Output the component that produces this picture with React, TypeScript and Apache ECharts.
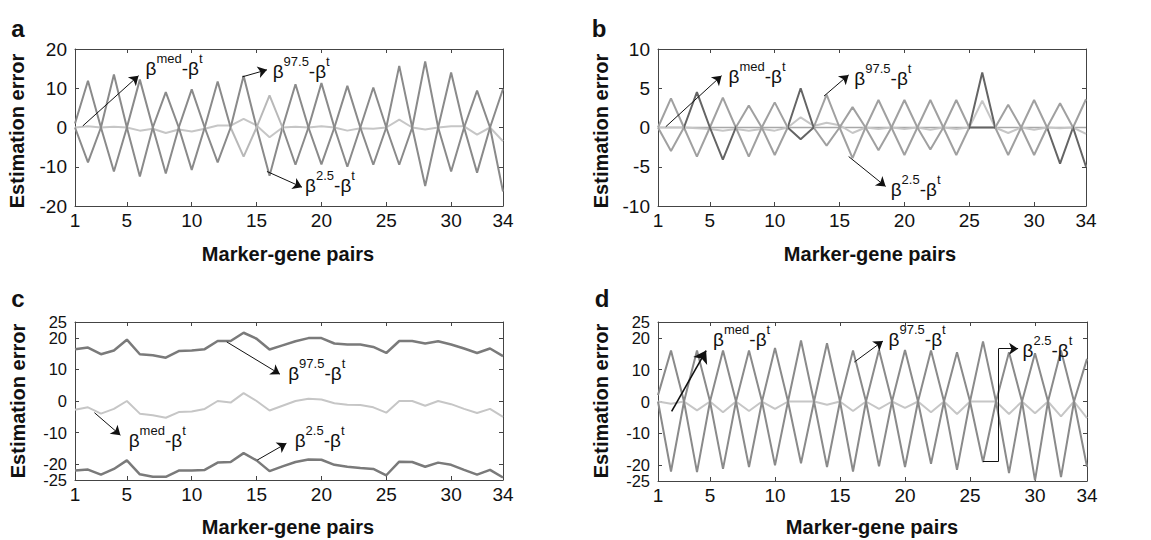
import React, { useEffect, useRef } from 'react';
import * as echarts from 'echarts';

const FONT = '"Liberation Sans", Arial, Helvetica, sans-serif';

// ---------- data ----------
const markerPairs = [1, 2, 3, 4, 5, 6, 7, 8, 9, 10, 11, 12, 13, 14, 15, 16, 17, 18, 19, 20, 21, 22, 23, 24, 25, 26, 27, 28, 29, 30, 31, 32, 33, 34];
const xTickLabels = [1, 5, 10, 15, 20, 25, 30, 34];
const xTickMarks = [5, 10, 15, 20, 25, 30];
const yTicksA = [-20, -10, 0, 10, 20];
const yTicksB = [-10, -5, 0, 5, 10];
const yTicksCD = [-25, -20, -10, 0, 10, 20, 25];
const yLabelsCDInner = [-20, -10, 0, 10, 20];
const yLabelsCDEnds = [-25, 25];

// panel a
const aMed = [0, 0.3, 0, 0.2, 0, -0.8, -0.3, -1.4, -0.5, -1, -0.3, 0.5, 0.5, 2.2, 0.5, -2.5, 0, 0.2, 0, 0.3, 0, -0.8, -0.2, -0.3, 0, 2, 0, -0.5, 0, 0.3, 0.3, -1.8, 0, -3.5];
const aP = [1, 11.9, 0, -11.2, 0, 12.2, 0, -11.7, 0, 9.7, 0, -8.9, 0, 13.2, 0, -12.3, 0, 11, 0, -9.4, 0, 10.6, 0, -9.5, 0, 15.7, 0, -14.9, 0, 14, 0, -11.5, 0, 9.8];
const aQ = [0, -8.9, 0, 13.5, 0, -12.5, 0, 9, 0, -10.8, 0, 11.7, 0, -7.4, 0, 8.2, 0, -9.5, 0, 11.3, 0, -10, 0, 10.2, 0, -9.5, 0, 16.8, 0, -11.2, 0, 9.4, 0, -16.3];

// panel b
const bZero = [0, 0, 0, 0, 0, 0, 0, 0, 0, 0, 0, 0, 0, 0, 0, 0, 0, 0, 0, 0, 0, 0, 0, 0, 0, 0, 0, 0, 0, 0, 0, 0, 0, 0];
const bMed = [0, 0, 0, -0.1, -0.2, -0.4, -0.2, -0.4, -0.2, -0.4, 0, 1.3, 0.2, 0.6, 0.3, -0.7, 0, -0.2, 0, -0.2, 0, -0.3, 0, -0.2, 0, 3.4, 0, -0.7, 0, -0.3, 0, -0.1, 0, -0.8];
const bP = [0, 3.7, 0, -3.7, 0, 3.8, 0, -3.7, 0, 3.2, 0, -1.5, 0, 4.2, 0, -3.9, 0, 3.5, 0, -3.5, 0, 3.5, 0, -3.5, 0, 7, 0, -3.5, 0, 3.5, 0, -4.6, 0, 3.6];
const bQ = [0, -3, 0, 4.5, 0, -4.1, 0, 2.8, 0, -3.5, 0, 5, 0, -2.3, 0, 2.6, 0, -2.9, 0, 3.5, 0, -2.8, 0, 3.5, 0, 0, 0, 2.9, 0, -3.5, 0, 3.1, 0, -5];

// panel c
const cMed = [-2.8, -2, -4, -2.5, 0, -4, -4.5, -5.3, -3.5, -3.3, -2.5, 0, -0.5, 2.5, 0, -3, -1.5, 0, 0.7, 0.5, -0.7, -1.2, -1.3, -2, -3.7, 0, 0, -1.5, 0, -1, -2.5, -3.8, -2.5, -5];
const cHi = [16.4, 16.9, 14.8, 16, 19.4, 14.8, 14.5, 13.7, 15.8, 16, 16.4, 19, 19, 21.6, 19.7, 16.3, 17.6, 18.9, 19.9, 19.9, 18.2, 17.9, 17.9, 17.1, 15.2, 19, 19, 18.2, 18.9, 17.9, 16.6, 15.2, 16.6, 14.2];
const cLo = [-22, -21.7, -23.3, -21.5, -18.8, -23.2, -24, -24, -22, -22, -21.8, -19.5, -19.3, -16.5, -18.8, -22.2, -20.7, -19.3, -18.5, -18.6, -20.2, -20.8, -21.2, -21.5, -23.5, -19.2, -19.3, -20.8, -19.5, -20.2, -21.8, -23.3, -21.8, -24.2];

// panel d
const dMed = [0, -0.7, 0, -2.8, 0, -3.4, 0, -3, 0, -2.3, 0, 0, 0, -1, 0, -3, 0, -2.3, 0, -2, 0, -3.4, 0, -3.9, 0, 0, 0, -3.9, 0, -3.7, 0, -4.7, 0, -5.2];
const dP = [2, 16, 0, -22.2, 0, 16, 0, -20.6, 0, 16.8, 0, -19.4, 0, 18.3, 0, -22, 0, 16.2, 0, -20.6, 0, 16, 0, -21.5, 0, 18.9, 0, -22.5, 0, 15.2, 0, -23.8, 0, 13.4];
const dQ = [0, -22, 0, 16, 0, -21.2, 0, 16, 0, -20.1, 0, 19.2, 0, -20.6, 0, 16, 0, -20.4, 0, 16.2, 0, -19.6, 0, 15.5, 0, -19, 0, 15.5, 0, -24.8, 0, 16, 0, -20.5];

// ---------- styling ----------
const LIGHT = '#c6c6c6';
const MID = '#8a8a8a';
const MIDB = '#a0a0a0';
const DARK = '#646464';
const AXIS = '#444';

const grids = [
  { left: 75, top: 49, width: 428, height: 157 },
  { left: 658, top: 49, width: 428, height: 157 },
  { left: 75, top: 322, width: 428, height: 158 },
  { left: 658, top: 322, width: 429, height: 159 },
];

const pairs = (vals: number[]) => markerPairs.map((x, i) => [x, vals[i]]);

const labelBase = (values: number[], fs: number, margin: number) => ({
  show: true, customValues: values, margin, fontSize: fs, color: '#111', fontFamily: FONT,
  hideOverlap: false, showMinLabel: true, showMaxLabel: true,
});

const xAxes: any[] = [];
const yAxes: any[] = [];
const yRanges: [number, number, number[], number[], number][] = [
  [-20, 20, yTicksA, yTicksA, 19],
  [-10, 10, yTicksB, yTicksB, 19],
  [-25, 25, yTicksCD, yLabelsCDInner, 16.5],
  [-25, 25, yTicksCD, yLabelsCDInner, 16.5],
];
const line = { show: true, onZero: false, lineStyle: { color: AXIS, width: 1 } };
grids.forEach((_, g) => {
  xAxes.push({
    type: 'value', gridIndex: g, min: 1, max: 34, position: 'bottom',
    axisLine: line,
    axisTick: { show: true, inside: true, length: 4, customValues: xTickMarks, lineStyle: { color: AXIS } },
    axisLabel: labelBase(xTickLabels, 19, 5),
    splitLine: { show: false },
  });
  xAxes.push({
    type: 'value', gridIndex: g, min: 1, max: 34, position: 'top',
    axisLine: line,
    axisTick: { show: true, inside: true, length: 4, customValues: xTickMarks, lineStyle: { color: AXIS } },
    axisLabel: { show: false },
    splitLine: { show: false },
  });
  const [mn, mx, ticks, labels, fs] = yRanges[g];
  yAxes.push({
    type: 'value', gridIndex: g, min: mn, max: mx, position: 'left',
    axisLine: line,
    axisTick: { show: true, inside: true, length: 4, customValues: ticks, lineStyle: { color: AXIS } },
    axisLabel: labelBase(labels, fs, 8),
    splitLine: { show: false },
  });
  yAxes.push({
    type: 'value', gridIndex: g, min: mn, max: mx, position: 'right',
    axisLine: line,
    axisTick: { show: true, inside: true, length: 4, customValues: ticks, lineStyle: { color: AXIS } },
    axisLabel: { show: false },
    splitLine: { show: false },
  });
});
// extra label-only axes for the crowded ±25 labels of panels c and d
[2, 3].forEach((g) => {
  yAxes.push({
    type: 'value', gridIndex: g, min: -25, max: 25, position: 'left', offset: 0,
    axisLine: { show: false },
    axisTick: { show: false },
    axisLabel: labelBase(yLabelsCDEnds, 16.5, 8),
    splitLine: { show: false },
  });
});

// when byVisualMap is true, the colour comes from a visualMap (segment shading)
const lineSeries = (g: number, vals: number[], color: string, width: number, byVisualMap = false) => ({
  type: 'line',
  xAxisIndex: g * 2,
  yAxisIndex: g * 2,
  data: pairs(vals),
  symbol: 'none',
  showSymbol: false,
  silent: true,
  ...(byVisualMap ? {} : { color }),
  lineStyle: byVisualMap ? { width } : { color, width },
  emphasis: { disabled: true },
});

const rich = {
  b: { fontSize: 19, fontFamily: FONT, color: '#111', lineHeight: 26, verticalAlign: 'bottom' },
  s: { fontSize: 13, fontFamily: FONT, color: '#111', lineHeight: 18, verticalAlign: 'top' },
};
const lbl = (sup: string) => `{b|β}{s|${sup}}{b|-β}{s|t}`;

const arrow = (x1: number, y1: number, x2: number, y2: number, w = 1, size = 9) => [
  { coord: [x1, y1], symbol: 'none', lineStyle: { color: '#111', width: w, type: 'solid' } },
  { coord: [x2, y2], symbol: 'arrow', symbolSize: size, lineStyle: { color: '#111', width: w, type: 'solid' } },
];
const seg = (x1: number, y1: number, x2: number, y2: number) => [
  { coord: [x1, y1], symbol: 'none', lineStyle: { color: '#111', width: 1, type: 'solid' } },
  { coord: [x2, y2], symbol: 'none', lineStyle: { color: '#111', width: 1, type: 'solid' } },
];
const textAt = (x: number, y: number, sup: string) => ({
  coord: [x, y],
  label: { formatter: lbl(sup) },
});

const annotation = (g: number, lines: any[], texts: any[]) => ({
  type: 'line',
  xAxisIndex: g * 2,
  yAxisIndex: g * 2,
  data: [],
  silent: true,
  z: 10,
  markLine: {
    silent: true,
    animation: false,
    symbol: ['none', 'arrow'],
    label: { show: false },
    emphasis: { disabled: true },
    lineStyle: { color: '#111', width: 1, type: 'solid' },
    itemStyle: { color: '#111' },
    data: lines,
  },
  markPoint: {
    silent: true,
    animation: false,
    symbol: 'rect',
    symbolSize: 1,
    itemStyle: { color: 'rgba(0,0,0,0)' },
    label: { show: true, position: 'right', distance: 0, color: '#111', rich },
    data: texts,
  },
});

const series: any[] = [
  // a: 0,1,2
  lineSeries(0, aMed, LIGHT, 2),
  lineSeries(0, aP, MID, 2),
  lineSeries(0, aQ, MID, 2, true),
  // b: 3,4,5,6
  lineSeries(1, bZero, '#a8a8a8', 1.5),
  lineSeries(1, bMed, LIGHT, 2),
  lineSeries(1, bP, MIDB, 2, true),
  lineSeries(1, bQ, MIDB, 2, true),
  // c: 7,8,9
  lineSeries(2, cMed, LIGHT, 2),
  lineSeries(2, cHi, '#7a7a7a', 2.5),
  lineSeries(2, cLo, '#7a7a7a', 2.5),
  // d: 10,11,12
  lineSeries(3, dMed, LIGHT, 2),
  lineSeries(3, dP, MID, 2),
  lineSeries(3, dQ, MID, 2),
  // annotations
  annotation(0, [
    arrow(1.6, 0.4, 5.9, 13.2),
    arrow(13.9, 12.9, 15.8, 14.7),
    arrow(15.8, -11.2, 18.5, -15.2),
  ], [
    textAt(6.4, 16, 'med'),
    textAt(16.2, 15.1, '97.5'),
    textAt(18.7, -13.8, '2.5'),
  ]),
  annotation(1, [
    arrow(1.6, 0.1, 5.9, 6.6),
    arrow(13.8, 4, 15.7, 6.7),
    arrow(15.7, -3.7, 18.55, -7.5),
  ], [
    textAt(6.4, 7, 'med'),
    textAt(16.1, 6.7, '97.5'),
    textAt(18.9, -7.5, '2.5'),
  ]),
  annotation(2, [
    arrow(12.7, 18.7, 16.8, 8.5),
    arrow(2.5, -3.7, 4.5, -10.8),
    arrow(15.05, -18.7, 17.3, -13.4),
  ], [
    textAt(17.4, 9.7, '97.5'),
    textAt(5.1, -11.3, 'med'),
    textAt(17.9, -11.3, '2.5'),
  ]),
  annotation(3, [
    arrow(2.05, -3.1, 4.7, 16, 1.6, 12),
    arrow(16.1, 12.4, 18.3, 19),
    seg(26, -18.8, 27.2, -18.8),
    seg(27.2, -18.8, 27.2, 16.6),
    arrow(27.2, 16.6, 28.7, 16.6),
  ], [
    textAt(5.2, 20.6, 'med'),
    textAt(18.7, 20.6, '97.5'),
    textAt(29, 17.2, '2.5'),
  ]),
];

const piecesFor = (ranges: [number, number][], base: string, alt: string) => {
  const pieces: any[] = [];
  let start = 1;
  ranges.forEach(([a, b]) => {
    if (a > start) pieces.push({ gte: start, lt: a, color: base });
    pieces.push({ gte: a, lte: b, color: alt });
    start = b;
  });
  if (start < 34) pieces.push({ gt: start, lte: 34, color: base });
  return pieces;
};

const visualMap = [
  { type: 'piecewise', show: false, seriesIndex: 2, dimension: 0, pieces: piecesFor([[13, 17]], MID, '#b8b8b8'), outOfRange: { color: MID } },
  { type: 'piecewise', show: false, seriesIndex: 5, dimension: 0, pieces: piecesFor([[11, 13], [25, 27], [31, 33]], MIDB, DARK), outOfRange: { color: MIDB } },
  { type: 'piecewise', show: false, seriesIndex: 6, dimension: 0, pieces: piecesFor([[3, 7], [11, 13], [25, 27], [33, 34]], MIDB, DARK), outOfRange: { color: MIDB } },
];

const textStyle = (text: string, size: number) => ({
  text,
  fontSize: size,
  fontWeight: 'bold',
  fontFamily: FONT,
  fill: '#111',
  align: 'center',
  verticalAlign: 'middle',
});

const graphic: any[] = [
  { type: 'text', x: 18, y: 28, style: textStyle('a', 24) },
  { type: 'text', x: 599, y: 28, style: textStyle('b', 24) },
  { type: 'text', x: 18, y: 298, style: textStyle('c', 24) },
  { type: 'text', x: 602, y: 298, style: textStyle('d', 24) },
  { type: 'text', x: 17, y: 131, rotation: Math.PI / 2, style: textStyle('Estimation error', 20) },
  { type: 'text', x: 601, y: 131, rotation: Math.PI / 2, style: textStyle('Estimation error', 20) },
  { type: 'text', x: 18, y: 401, rotation: Math.PI / 2, style: textStyle('Estimation error', 20) },
  { type: 'text', x: 601, y: 401, rotation: Math.PI / 2, style: textStyle('Estimation error', 20) },
  { type: 'text', x: 288, y: 254, style: textStyle('Marker-gene pairs', 20) },
  { type: 'text', x: 870, y: 254, style: textStyle('Marker-gene pairs', 20) },
  { type: 'text', x: 288, y: 527, style: textStyle('Marker-gene pairs', 20) },
  { type: 'text', x: 872, y: 527, style: textStyle('Marker-gene pairs', 20) },
];

const option: any = {
  animation: false,
  backgroundColor: '#fff',
  textStyle: { fontFamily: FONT },
  grid: grids.map((g) => ({ ...g, show: false, containLabel: false })),
  xAxis: xAxes,
  yAxis: yAxes,
  visualMap,
  series,
  graphic,
};

export default function App() {
  const ref = useRef<HTMLDivElement>(null);
  useEffect(() => {
    const chart = echarts.init(ref.current!, null, { renderer: 'svg' });
    chart.setOption(option);
    return () => chart.dispose();
  }, []);
  return (
    <div
      ref={ref}
      style={{ position: 'absolute', left: 0, top: 0, width: 1151, height: 540, background: '#fff' }}
    />
  );
}
